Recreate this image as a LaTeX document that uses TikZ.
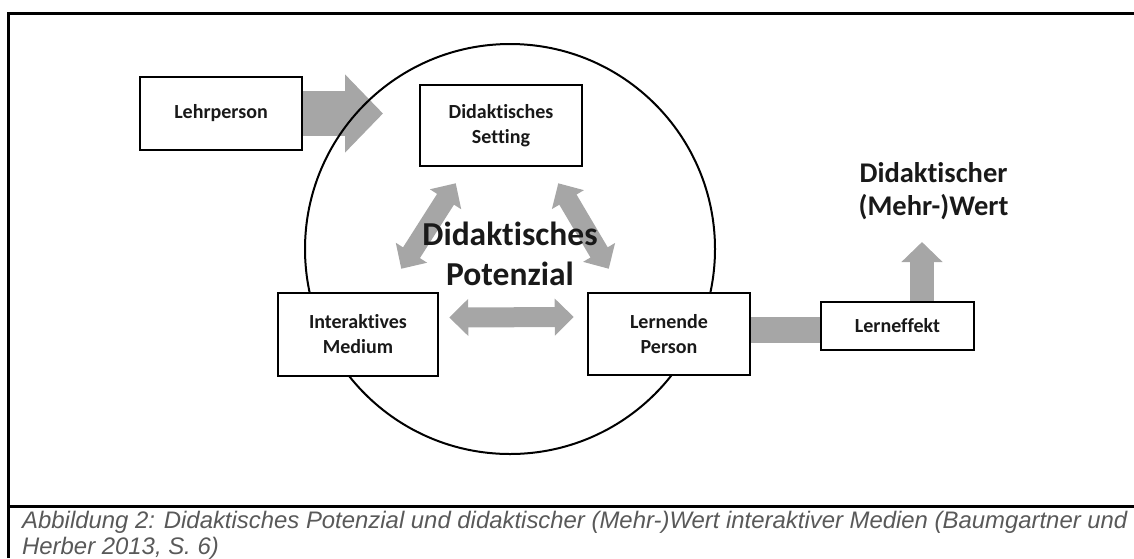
\documentclass[tikz,border=0pt]{standalone}
\usepackage{fontspec}
\setmainfont{Carlito}[Ligatures=NoCommon]
\newfontfamily\captionfont{Liberation Sans}
\usetikzlibrary{arrows.meta,calc}
\pgfdeclarelayer{bg}
\pgfdeclarelayer{mid}
\pgfsetlayers{bg,mid,main}
\definecolor{arrowgrey}{HTML}{A6A6A6}
\definecolor{capgrey}{HTML}{595959}
\begin{document}
\begin{tikzpicture}[x=1pt,y=-1pt,
  box/.style={draw=black, line width=2.5pt, fill=white, inner sep=0pt, align=center,
    text=black!90, font=\bfseries\fontsize{20}{25}\selectfont},
  blockarrow/.style={draw=arrowgrey, line width=45pt, -{Triangle[width=76pt,length=38pt]}},
  twoway/.style={draw=arrowgrey, line width=20pt,
    {Triangle[width=36pt,length=19pt]}-{Triangle[width=36pt,length=19pt]}},
  uparrow/.style={draw=arrowgrey, line width=24pt, -{Triangle[width=40pt,length=20pt]}},
  bar/.style={draw=arrowgrey, line width=26pt},
  frame/.style={draw=black, line width=3pt}
]
\useasboundingbox (0,0) rectangle (1134,558);

% outer frame and caption separator
\draw[frame] (8,558) -- (8,13) -- (1134,13);
\draw[frame] (8,506) -- (1134,506);

% boxes
\node[box, minimum width=162pt, minimum height=73pt] (lehr) at (221,113.5) {Lehrperson};
\node[box, minimum width=162pt, minimum height=81pt] (setting) at (501,125.5) {Didaktisches\\Setting};
\node[box, minimum width=160pt, minimum height=83pt] (medium) at (358,334.5) {Interaktives\\Medium};
\node[box, minimum width=162pt, minimum height=82pt] (lernende) at (669,334) {Lernende\\Person};
\node[box, minimum width=153pt, minimum height=48pt] (effekt) at (897.5,326) {Lerneffekt};

% labels
\node[align=center, inner sep=0pt, text=black!90, font=\bfseries\fontsize{33.5}{40}\selectfont]
  (potenzial) at (510,254) {Didaktisches\\Potenzial};
\node[align=center, inner sep=0pt, text=black!90, font=\bfseries\fontsize{28.5}{33}\selectfont]
  (wert) at (933.5,191) {Didaktischer\\(Mehr-)Wert};

% the circle behind the boxes
\begin{pgfonlayer}{mid}
\draw[line width=2pt] (510,249) circle[radius=205pt];
\end{pgfonlayer}

% grey arrows
\coordinate (lehrtip) at (383,113.5);
\coordinate (werttip) at (922,242);
\begin{pgfonlayer}{bg}
\draw[blockarrow] (lehr.east) -- (lehrtip);
\draw[twoway] ($(setting.south west)+(37,16)$) -- ($(medium.north east)+(-38,-23)$);
\draw[twoway] ($(setting.south east)+(-25,16)$) -- ($(lernende.north west)+(22,-23)$);
\draw[twoway] ($(medium.east)+(10,-17)$) -- ($(lernende.west)+(-13,-17)$);
\draw[bar] ($(lernende.east)+(0,-4)$) -- ($(effekt.west)+(0,4)$);
\draw[uparrow] ($(effekt.north)+(24.5,0)$) -- (werttip);
\end{pgfonlayer}

% caption
\node[anchor=north west, align=left, inner sep=0pt, text=capgrey,
  font=\captionfont\itshape\fontsize{23.9}{26}\selectfont] (caption) at (22,511)
  {Abbildung 2: Didaktisches Potenzial und didaktischer (Mehr-)Wert interaktiver Medien (Baumgartner und\\Herber 2013, S. 6)};
\end{tikzpicture}
\end{document}
